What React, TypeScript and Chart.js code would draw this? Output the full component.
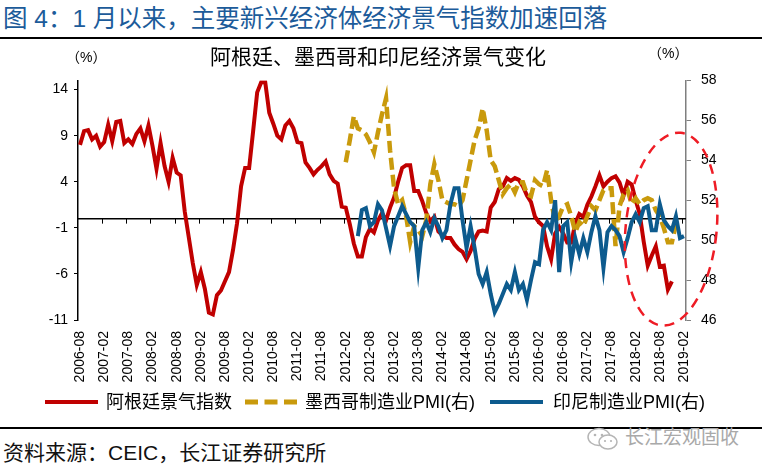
import React, { useEffect, useRef } from "react";
import { Chart, registerables } from "chart.js";

Chart.register(...registerables);

// ---------- categories (monthly, 2006-08 .. 2019-02) ----------
const FIRST_YEAR = 2006;
const FIRST_MONTH = 8;
const MONTHS = 151;
const categories: string[] = [];
for (let i = 0; i < MONTHS; i++) {
  const m0 = FIRST_MONTH - 1 + i;
  categories.push(`${FIRST_YEAR + Math.floor(m0 / 12)}-${String((m0 % 12) + 1).padStart(2, "0")}`);
}
const LABEL_EVERY = 6;

// ---------- series ----------
// 阿根廷景气指数 (left axis), starts 2006-08
const argentinaIndex = [
  8.0, 9.5, 9.6, 8.6, 9.0, 7.8, 8.3, 10.2, 8.4, 10.5,
  10.6, 8.2, 8.6, 8.1, 9.2, 9.8, 8.4, 10.1, 7.9, 5.4,
  8.2, 5.7, 4.0, 6.6, 5.0, 4.7, 0.8, -2.0, -4.8, -7.2,
  -5.8, -7.6, -10.2, -10.4, -8.3, -7.8, -6.8, -5.8, -3.4, -0.5,
  3.5, 5.5, 5.5, 9.5, 13.7, 14.8, 14.8, 11.5, 10.3, 9.0,
  8.6, 10.1, 10.6, 9.8, 8.3, 8.2, 6.1, 5.5, 4.8, 5.3,
  5.7, 6.2, 4.8, 4.1, 3.8, 1.3, 1.2, -0.6, -2.7, -4.1,
  -4.1, -2.0, -1.1, -1.5, -0.2, 0.6, -0.2, 1.2, 2.3, 4.0,
  5.5, 5.8, 5.8, 3.0, 3.0, 1.9, 0.6, -0.3, 0.2, -1.4,
  -1.8, -2.1, -2.1, -2.8, -3.3, -3.6, -4.4, -3.5, -2.2, -1.4,
  -1.3, -1.4, 1.2, 1.8, 3.2, 3.5, 4.4, 4.1, 4.4, 4.2,
  3.5, 2.5, 1.8, 0.2, -0.4, -0.8, -3.0, -4.4, -1.6, -0.9,
  -1.6, -2.6, -2.6, -0.5, 0.5, 0.2, 1.5, 2.4, 3.5, 4.7,
  3.5, 4.0, 4.4, 4.6, 3.9, 2.5, 4.0, 3.7, 2.0, 0.5,
  -2.5, -5.1, -4.0, -3.0, -5.2, -5.1, -7.7, -6.8,
];

// 墨西哥制造业PMI (right axis), starts at category index 66 (2012-02)
const mexicoStart = 66;
const mexicoPMI = [
  53.9, 55.0, 56.2, 55.6, 55.5, 55.3, 54.9, 54.4, 55.4, 56.3,
  57.1, 54.5, 52.6, 51.8, 52.0, 51.2, 49.9, 50.7, 50.5, 50.2,
  51.0, 52.8, 53.8, 53.0, 52.0, 51.9, 51.8, 51.8, 51.7, 52.0,
  53.0, 54.0, 55.0, 55.6, 56.6, 55.5, 54.0, 53.7, 53.0, 52.3,
  52.6, 52.8, 52.4, 52.9, 52.9, 52.3, 52.2, 53.0, 52.8, 52.7,
  53.5, 52.0, 50.9, 51.2, 51.7, 51.8, 51.2, 50.4, 50.9, 50.7,
  51.2, 51.7, 51.5, 52.0, 52.5, 52.6, 52.6, 49.7, 51.7, 52.3,
  52.5, 51.8, 52.1, 51.8, 52.0, 52.1, 52.0, 51.5, 51.2, 50.6,
  49.9, 49.9, 50.8,
];

// 印尼制造业PMI (right axis), starts at category index 69 (2012-05)
const indonesiaStart = 69;
const indonesiaPMI = [
  50.2, 51.5, 51.6, 50.7, 50.9, 51.8, 51.5, 50.6, 49.7, 50.7,
  51.2, 51.7, 51.3, 50.9, 50.7, 48.6, 50.5, 50.9, 50.4, 51.1,
  50.7, 50.1, 50.5, 51.8, 52.6, 52.6, 51.0, 49.6, 50.7, 49.6,
  48.3, 47.8, 48.4, 47.3, 46.4, 46.8, 47.3, 47.8, 47.5, 48.4,
  47.5, 47.8, 47.0, 48.0, 48.9, 48.8, 50.5, 50.9, 50.5, 52.0,
  48.4, 50.7, 50.9, 48.9, 50.1, 49.3, 50.1, 49.4, 50.4, 51.2,
  50.5, 48.6, 50.4, 50.7, 50.5, 50.2, 49.4, 50.1, 50.9, 51.3,
  50.9, 51.6, 51.7, 50.5, 50.5, 51.8, 51.0, 50.7, 50.5, 51.2,
  50.1, 50.2,
];

// ---------- axes ----------
const leftTicks = [-11, -6, -1, 4, 9, 14];
const rightTicks = [46, 48, 50, 52, 54, 56, 58];
const LEFT_MIN = -11;
const LEFT_MAX = 15;
const RIGHT_MIN = 46;
const RIGHT_MAX = 58;

const seriesNames = ["阿根廷景气指数", "墨西哥制造业PMI(右)", "印尼制造业PMI(右)"];
const RED = "#c00000";
const GOLD = "#c99a0c";
const BLUE = "#0d5b8e";

const FONT = '"Liberation Sans", "Noto Sans CJK SC", sans-serif';

function padFront(start: number, values: number[]) {
  return [...Array(start).fill(null), ...values];
}

// ---------- plugins ----------
const zeroAxisPlugin = {
  id: "zeroAxis",
  beforeDatasetsDraw(chart: any) {
    const { ctx, chartArea, scales } = chart;
    const y = scales.yL.getPixelForValue(0);
    ctx.save();
    ctx.strokeStyle = "#000";
    ctx.lineWidth = 1.5;
    ctx.beginPath();
    ctx.moveTo(chartArea.left, y);
    ctx.lineTo(chartArea.right, y);
    ctx.stroke();
    const catW = (chartArea.right - chartArea.left) / categories.length;
    ctx.lineWidth = 1;
    ctx.beginPath();
    for (let k = LABEL_EVERY; k <= categories.length; k += LABEL_EVERY) {
      const x = Math.round(chartArea.left + k * catW) + 0.5;
      ctx.moveTo(x, y);
      ctx.lineTo(x, y + 5);
    }
    ctx.stroke();
    ctx.restore();
  },
};

const ellipsePlugin = {
  id: "highlightEllipse",
  afterDraw(chart: any) {
    const { ctx, scales } = chart;
    const cx = scales.x.getPixelForValue(146.8);
    const cy = scales.yR.getPixelForValue(50.55);
    const rx = Math.abs(scales.x.getPixelForValue(146.8 + 11.3) - cx);
    const ry = Math.abs(scales.yR.getPixelForValue(50.55 + 4.85) - cy);
    ctx.save();
    ctx.strokeStyle = "#ee1c25";
    ctx.lineWidth = 2.5;
    ctx.setLineDash([10, 7]);
    ctx.beginPath();
    ctx.ellipse(cx, cy, rx, ry, 0.1, 0, Math.PI * 2);
    ctx.stroke();
    ctx.restore();
  },
};

function ChartCanvas() {
  const ref = useRef<HTMLCanvasElement | null>(null);
  useEffect(() => {
    if (!ref.current) return;
    const tickFont = { family: FONT, size: 14 };
    const chart = new Chart(ref.current, {
      type: "line",
      data: {
        labels: categories,
        datasets: [
          {
            label: seriesNames[0],
            data: argentinaIndex,
            yAxisID: "yL",
            borderColor: RED,
            backgroundColor: RED,
            borderWidth: 4,
            pointRadius: 0,
            tension: 0,
            order: 3,
          },
          {
            label: seriesNames[1],
            data: padFront(mexicoStart, mexicoPMI),
            yAxisID: "yR",
            borderColor: GOLD,
            backgroundColor: GOLD,
            borderWidth: 4.5,
            borderDash: [12, 5],
            pointRadius: 0,
            tension: 0,
            order: 2,
          },
          {
            label: seriesNames[2],
            data: padFront(indonesiaStart, indonesiaPMI),
            yAxisID: "yR",
            borderColor: BLUE,
            backgroundColor: BLUE,
            borderWidth: 4,
            pointRadius: 0,
            tension: 0,
            order: 1,
          },
        ],
      },
      options: {
        responsive: false,
        animation: false,
        devicePixelRatio: 1,
        layout: { padding: { top: 10, left: 0, right: 0, bottom: 0 } },
        plugins: {
          legend: { display: false },
          tooltip: { enabled: false },
          title: { display: false },
        },
        scales: {
          x: {
            type: "category",
            offset: true,
            grid: { display: false, drawTicks: false },
            border: { display: false },
            ticks: {
              autoSkip: false,
              maxRotation: 90,
              minRotation: 90,
              padding: 11,
              color: "#000",
              font: tickFont,
              callback: (_v: any, i: number) => (i % LABEL_EVERY === 0 ? categories[i] : ""),
            },
            afterFit: (s: any) => {
              s.height = 72;
            },
          },
          yL: {
            type: "linear",
            position: "left",
            min: LEFT_MIN,
            max: LEFT_MAX,
            afterBuildTicks: (s: any) => {
              s.ticks = leftTicks.map((v) => ({ value: v }));
            },
            grid: { drawOnChartArea: false, drawTicks: true, tickLength: 4, color: "#000", lineWidth: 1 },
            border: { display: true, color: "#000", width: 1.5 },
            ticks: { padding: 6, color: "#000", font: tickFont, callback: (v: any) => String(v) },
            afterFit: (s: any) => {
              s.width = 78;
            },
          },
          yR: {
            type: "linear",
            position: "right",
            min: RIGHT_MIN,
            max: RIGHT_MAX,
            afterBuildTicks: (s: any) => {
              s.ticks = rightTicks.map((v) => ({ value: v }));
            },
            grid: { drawOnChartArea: false, drawTicks: true, tickLength: 5, color: "#7f7f7f", lineWidth: 1 },
            border: { display: true, color: "#7f7f7f", width: 1.5 },
            ticks: { padding: 10, color: "#000", font: tickFont, callback: (v: any) => String(v) },
            afterFit: (s: any) => {
              s.width = 76;
            },
          },
        },
      } as any,
      plugins: [zeroAxisPlugin, ellipsePlugin],
    });
    return () => chart.destroy();
  }, []);
  return (
    <canvas
      ref={ref}
      width={762}
      height={330}
      style={{ position: "absolute", left: 0, top: 62, width: 762, height: 330 }}
    />
  );
}

function LegendLine({ left, color, dashed }: { left: number; color: string; dashed?: boolean }) {
  const w = dashed ? 52 : 53;
  return (
    <svg style={{ position: "absolute", left, top: 397 }} width={w} height={10}>
      <line
        x1={0}
        y1={5}
        x2={w}
        y2={5}
        stroke={color}
        strokeWidth={dashed ? 5 : 4}
        strokeDasharray={dashed ? "13 6.5" : undefined}
      />
    </svg>
  );
}

export default function App() {
  const legendText = { position: "absolute" as const, top: 390, fontSize: 18, lineHeight: "24px", color: "#000", whiteSpace: "nowrap" as const };
  return (
    <div
      style={{
        position: "absolute",
        left: 0,
        top: 0,
        width: 762,
        height: 472,
        background: "#fff",
        overflow: "hidden",
        fontFamily: FONT,
      }}
    >
      <div style={{ position: "absolute", left: 3, top: 4, fontSize: 24.5, lineHeight: "30px", color: "#1c5b9a", whiteSpace: "nowrap" }}>
        图 4：1 月以来，主要新兴经济体经济景气指数加速回落
      </div>
      <div style={{ position: "absolute", left: 0, top: 37, width: 762, height: 2, background: "#000" }} />

      <ChartCanvas />

      <div style={{ position: "absolute", left: 210, top: 44, fontSize: 21, lineHeight: "26px", color: "#000", whiteSpace: "nowrap" }}>
        阿根廷、墨西哥和印尼经济景气变化
      </div>
      <div style={{ position: "absolute", left: 66, top: 47, fontSize: 14, lineHeight: "20px", color: "#000", whiteSpace: "nowrap" }}>
        （%）
      </div>
      <div style={{ position: "absolute", left: 648, top: 43, fontSize: 14, lineHeight: "20px", color: "#000", whiteSpace: "nowrap" }}>
        （%）
      </div>

      <LegendLine left={45} color={RED} />
      <div style={{ ...legendText, left: 106 }}>{seriesNames[0]}</div>
      <LegendLine left={245} color={GOLD} dashed />
      <div style={{ ...legendText, left: 305 }}>{seriesNames[1]}</div>
      <LegendLine left={490} color={BLUE} />
      <div style={{ ...legendText, left: 553 }}>{seriesNames[2]}</div>

      <div style={{ position: "absolute", left: 0, top: 427, width: 762, height: 2, background: "#000" }} />
      <div style={{ position: "absolute", left: 3, top: 439, fontSize: 21, lineHeight: "28px", color: "#111", whiteSpace: "nowrap" }}>
        资料来源：CEIC，长江证券研究所
      </div>

      <svg style={{ position: "absolute", left: 586, top: 427 }} width={34} height={24}>
        <ellipse cx={13} cy={10} rx={11} ry={8.5} fill="none" stroke="#b5b5b5" strokeWidth={1.5} />
        <ellipse cx={22} cy={15} rx={9} ry={7} fill="#fff" stroke="#b5b5b5" strokeWidth={1.5} />
        <circle cx={9} cy={8} r={1.3} fill="#b5b5b5" />
        <circle cx={16} cy={8} r={1.3} fill="#b5b5b5" />
        <circle cx={19} cy={14} r={1.1} fill="#b5b5b5" />
        <circle cx={25} cy={14} r={1.1} fill="#b5b5b5" />
      </svg>
      <div style={{ position: "absolute", left: 625, top: 426, fontSize: 19, lineHeight: "24px", color: "#a9a9a9", whiteSpace: "nowrap" }}>
        长江宏观固收
      </div>
    </div>
  );
}
